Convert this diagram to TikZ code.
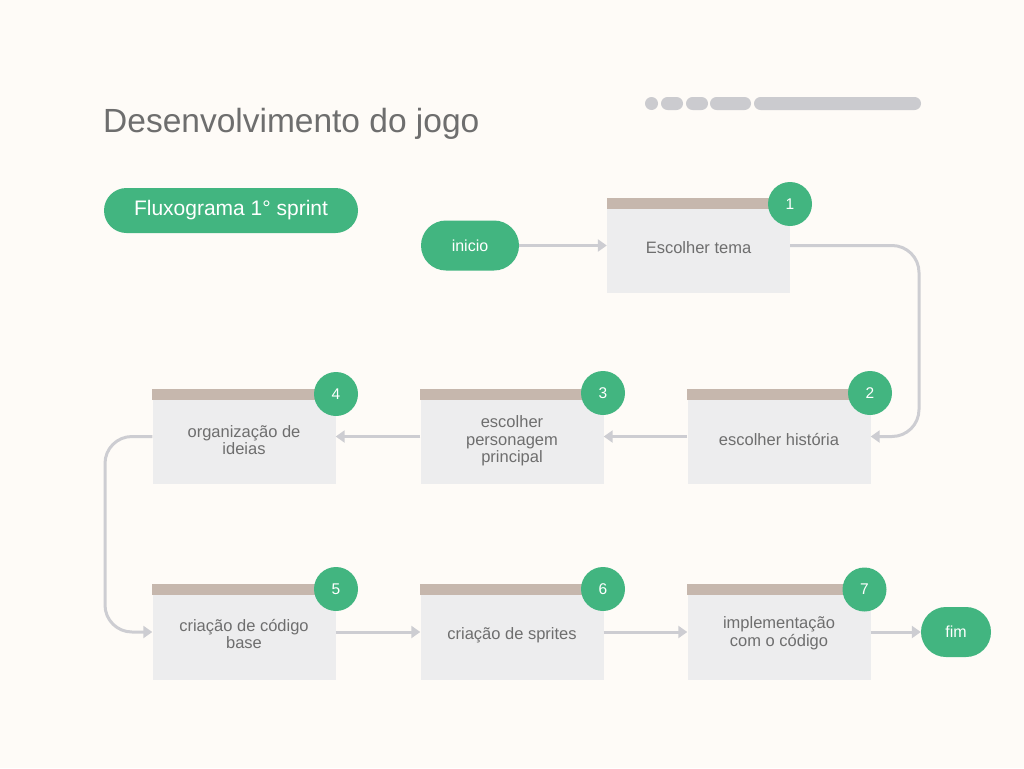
\documentclass[tikz,border=0pt]{standalone}
\usepackage{fontspec}
\setmainfont{Liberation Sans}
\usetikzlibrary{arrows.meta}
\definecolor{bg}{HTML}{FEFBF7}
\definecolor{grn}{HTML}{42B580}
\definecolor{boxfill}{HTML}{EDEDEE}
\definecolor{band}{HTML}{C6B7AD}
\definecolor{conn}{HTML}{CDCDD2}
\definecolor{txt}{HTML}{6E6E6E}
\definecolor{dots}{HTML}{CBCBCF}
\tikzset{
  stepbox/.style={rectangle, fill=boxfill, minimum width=183pt, minimum height=95pt, inner sep=0pt},
  steptext/.style={align=center, inner sep=0pt, text=txt, font=\fontsize{16.5}{17.5}\selectfont},
  numcirc/.style={circle, fill=grn, minimum size=44pt, inner sep=0pt, text=white,
    font=\fontsize{15.5}{18}\selectfont},
  term/.style={rectangle, rounded corners=25pt, fill=grn, minimum height=50pt, inner sep=0pt,
    text=white, font=\fontsize{16}{18}\selectfont},
  flow/.style={draw=conn, line width=3pt, -{Triangle[length=9pt,width=12pt]}, rounded corners=27pt},
}
\newcommand{\bandtop}[1]{\fill[band] (#1.north west) rectangle ([yshift=-11pt]#1.north east);}
\begin{document}
\begin{tikzpicture}[x=1pt,y=-1pt]
\fill[bg] (0,0) rectangle (1024,768);
\useasboundingbox (0,0) rectangle (1024,768);
% title
\node[anchor=base west, inner sep=0pt, text=txt, font=\fontsize{33.5}{38}\selectfont] (title) at (103,132) {Desenvolvimento do jogo};
% decorative bar
\fill[dots, rounded corners=6.5pt] (645,97) rectangle (658,110);
\fill[dots, rounded corners=6.5pt] (661,97) rectangle (683,110);
\fill[dots, rounded corners=6.5pt] (686,97) rectangle (708,110);
\fill[dots, rounded corners=6.5pt] (710,97) rectangle (751,110);
\fill[dots, rounded corners=6.5pt] (754,97) rectangle (921,110);
% sprint pill
\node[rectangle, rounded corners=22.5pt, fill=grn, minimum width=254pt, minimum height=45pt, inner sep=0pt,
  text=white, font=\fontsize{21}{24}\selectfont] (sprint) at (231,210.5) {Fluxograma 1° sprint};
% boxes
\node[stepbox] (b1) at (698.5,245.5) {};
\node[stepbox] (b2) at (779,436.5) {};
\node[stepbox] (b3) at (512,436.5) {};
\node[stepbox] (b4) at (244,436.5) {};
\node[stepbox] (b5) at (244,632) {};
\node[stepbox] (b6) at (512,632) {};
\node[stepbox] (b7) at (779,632) {};
\bandtop{b1}\bandtop{b2}\bandtop{b3}\bandtop{b4}\bandtop{b5}\bandtop{b6}\bandtop{b7}
\node[steptext] (t1) at ([yshift=-2.5pt]b1.center) {Escolher tema};
\node[steptext] (t2) at ([yshift=-3pt]b2.center) {escolher história};
\node[steptext] (t3) at ([yshift=-4.5pt]b3.center) {escolher\\personagem\\principal};
\node[steptext] (t4) at ([yshift=-3.5pt]b4.center) {organização de\\ideias};
\node[steptext] (t5) at ([yshift=-2pt]b5.center) {criação de código\\base};
\node[steptext] (t6) at ([yshift=-3pt]b6.center) {criação de sprites};
\node[steptext] (t7) at ([yshift=-1pt]b7.center) {implementação\\com o código};
% number circles
\node[numcirc] (c1) at (790,204) {1};
\node[numcirc] (c2) at (870,393) {2};
\node[numcirc] (c3) at (603,393) {3};
\node[numcirc] (c4) at (336,394) {4};
\node[numcirc] (c5) at (336,589) {5};
\node[numcirc] (c6) at (603,589) {6};
\node[numcirc] (c7) at (864.5,589.5) {7};
% terminals
\node[term, minimum width=98pt] (ini) at (470,245.5) {inicio};
\node[term, minimum width=70pt] (fim) at (956,632) {fim};
% connectors
\draw[flow] (ini.east) -- (b1.west |- ini.east);
\coordinate (r1) at (919,245.5);
\coordinate (l1) at (105,436.5);
\draw[flow] (b1.east) -- (r1) -- (r1 |- b2.east) -- (b2.east);
\draw[flow] (b2.west) -- (b3.east);
\draw[flow] (b3.west) -- (b4.east);
\draw[flow] (b4.west) -- (l1) -- (l1 |- b5.west) -- (b5.west);
\draw[flow] (b5.east) -- (b6.west);
\draw[flow] (b6.east) -- (b7.west);
\draw[flow] (b7.east) -- (fim.west);
\end{tikzpicture}
\end{document}
